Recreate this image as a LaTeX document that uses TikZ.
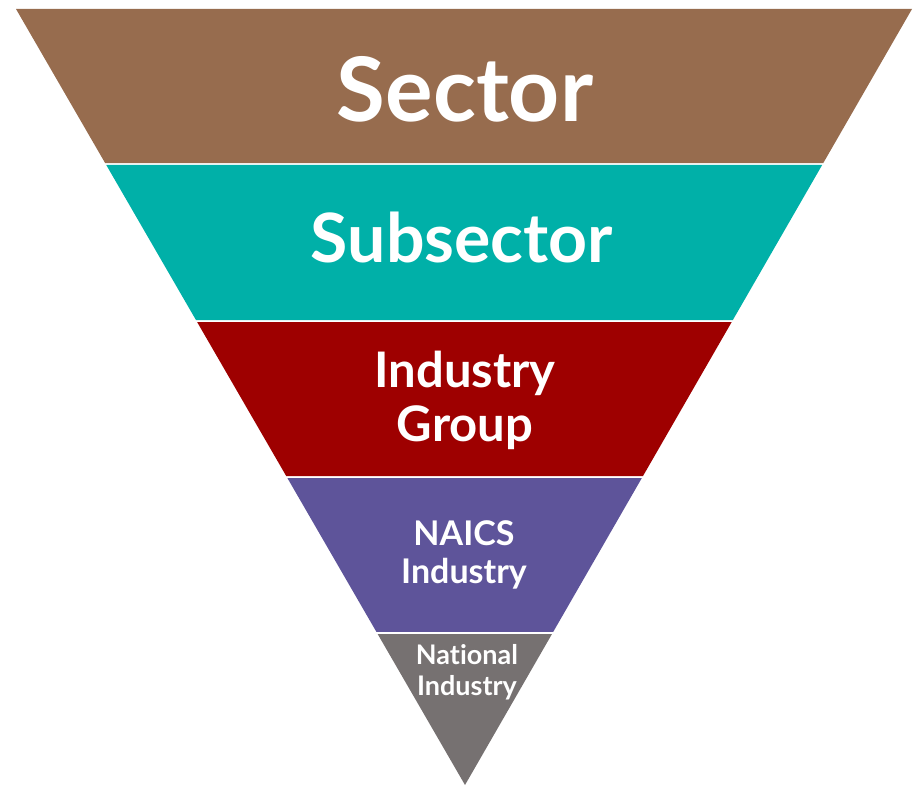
\documentclass[tikz,border=0pt]{standalone}
\usepackage{fontspec}
\setmainfont{Lato}[Ligatures=NoCommon]
\usepackage{tikz}
\usetikzlibrary{calc}
\definecolor{sectorbrown}{RGB}{151,108,78}
\definecolor{subteal}{RGB}{0,176,168}
\definecolor{groupred}{RGB}{158,0,0}
\definecolor{naicspurple}{RGB}{94,84,154}
\definecolor{natgray}{RGB}{118,113,113}

\begin{document}
\begin{tikzpicture}[x=1pt, y=-1pt, levelname/.style={text=white, align=center, inner sep=0pt}]
    \useasboundingbox (0,0) rectangle (917,786);
    \coordinate (tl) at (16,9);
    \coordinate (tr) at (912,9);
    \coordinate (tip) at (465,785);
    % five bands of the funnel, thin white gaps between them
    \foreach \t/\b/\c in {0/0.1985/sectorbrown, 0.2010/0.4008/subteal, 0.4034/0.6018/groupred, 0.6044/0.8028/naicspurple, 0.8054/1/natgray} {
        \fill[\c] ($(tl)!\t!(tip)$) -- ($(tr)!\t!(tip)$) -- ($(tr)!\b!(tip)$) -- ($(tl)!\b!(tip)$) -- cycle;
    }
    \node[levelname, anchor=base, font=\fontsize{89}{94}\selectfont\bfseries] (sector) at (465,122) {Sector};
    \node[levelname, anchor=base, font=\fontsize{68}{72}\selectfont\bfseries] (subsector) at (462,262) {Subsector};
    \node[levelname, font=\fontsize{49}{54}\selectfont\bfseries] (group) at (465,400) {Industry\\Group};
    \node[levelname, font=\fontsize{34}{38}\selectfont\bfseries] (naics) at (464,555) {NAICS\\Industry};
    \node[levelname, font=\fontsize{27}{31}\selectfont\bfseries] (national) at (467,672) {National\\Industry};
\end{tikzpicture}
\end{document}
